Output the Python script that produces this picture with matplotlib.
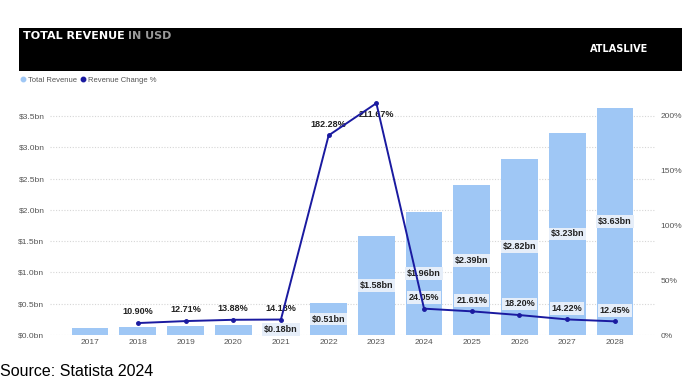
import numpy as np
import matplotlib
matplotlib.use("Agg")
import matplotlib.pyplot as plt
from matplotlib.patches import Rectangle
from matplotlib.lines import Line2D

plt.rcParams['font.family'] = ['Liberation Sans', 'DejaVu Sans']

years = ['2017', '2018', '2019', '2020', '2021', '2022', '2023', '2024', '2025', '2026', '2027', '2028']
revenue_bn = [0.11, 0.12, 0.14, 0.16, 0.18, 0.51, 1.58, 1.96, 2.39, 2.82, 3.23, 3.63]
change_years = years[1:]
change_pct = [10.90, 12.71, 13.88, 14.13, 182.28, 211.67, 24.05, 21.61, 18.20, 14.22, 12.45]
bar_label_years = ['2021', '2022', '2023', '2024', '2025', '2026', '2027', '2028']
left_ticks = [0.0, 0.5, 1.0, 1.5, 2.0, 2.5, 3.0, 3.5]
right_ticks = [0, 50, 100, 150, 200]

bar_col = '#9fc7f5'
line_col = '#1a1aa0'
tick_col = '#555555'
box_col = '#e6eef9'

W, H = 700, 390
fig = plt.figure(figsize=(7, 3.9), dpi=100)

# black banner
fig.add_artist(Rectangle((19 / W, 1 - 71 / H), 663 / W, 43 / H, transform=fig.transFigure,
                         facecolor='black', edgecolor='none'))
fig.text(23 / W, 1 - 36 / H, 'TOTAL REVENUE', color='white', fontsize=8, fontweight='heavy',
         family='DejaVu Sans', va='center', ha='left')
fig.text(128 / W, 1 - 36 / H, 'IN USD', color='#9a9a9a', fontsize=8, fontweight='heavy',
         family='DejaVu Sans', va='center', ha='left')
fig.text(648 / W, 1 - 49 / H, 'ATLASLIVE', color='white', fontsize=7, fontweight='bold',
         family='DejaVu Sans', va='center', ha='right')

ax = fig.add_axes([50 / W, 1 - 335 / H, 605 / W, 235 / H])
x = np.arange(len(years))
ax.bar(x, revenue_bn, width=0.77, color=bar_col, zorder=2)
ax.set_xlim(-0.84, len(years) - 1 + 0.84)
ax.set_ylim(0, 3.5 * 235 / 219)
ax.set_yticks(left_ticks)
ax.set_yticklabels(['$%.1fbn' % v for v in left_ticks])
ax.set_xticks(x)
ax.set_xticklabels(years)
ax.tick_params(axis='both', length=0, labelsize=6, colors=tick_col)
ax.tick_params(axis='y', pad=4)
ax.tick_params(axis='x', pad=3)
ax.grid(axis='y', linestyle=(0, (1, 1.5)), color='#d6d6d6', linewidth=0.8)
ax.set_axisbelow(True)
for s in ax.spines.values():
    s.set_visible(False)

for yr in bar_label_years:
    i = years.index(yr)
    v = revenue_bn[i]
    ax.text(i, v / 2, '$%.2fbn' % v, ha='center', va='center', fontsize=6.5, fontweight='bold',
            color='#222222', zorder=3,
            bbox=dict(boxstyle='square,pad=0.2', facecolor=box_col, edgecolor='none'))

ax2 = ax.twinx()
xc = [years.index(y) for y in change_years]
ax2.plot(xc, change_pct, color=line_col, linewidth=1.4, marker='o', markersize=2.5, zorder=4)
ax2.set_ylim(0, 200 * 235 / 219)
ax2.set_yticks(right_ticks)
ax2.set_yticklabels(['%d%%' % v for v in right_ticks])
ax2.tick_params(axis='y', length=0, labelsize=6, colors=tick_col, pad=4)
for s in ax2.spines.values():
    s.set_visible(False)

for xi, yr, v in zip(xc, change_years, change_pct):
    below = yr == '2023'
    boxed = int(yr) >= 2024
    kw = {}
    if boxed:
        kw['bbox'] = dict(boxstyle='square,pad=0.2', facecolor=box_col, edgecolor='none')
    ax2.annotate('%.2f%%' % v, (xi, v), xytext=(0, -8 if below else 8), textcoords='offset points',
                 ha='center', va='center', fontsize=6.5, fontweight='bold', color='#222222', **kw)

handles = [Line2D([], [], marker='o', linestyle='none', color=bar_col, markersize=3.2),
           Line2D([], [], marker='o', linestyle='none', color=line_col, markersize=3.2)]
fig.legend(handles, ['Total Revenue', 'Revenue Change %'], loc='center left',
           bbox_to_anchor=(21 / W, 1 - 80.5 / H), ncol=2, fontsize=5.5, frameon=False,
           handlelength=0.6, handletextpad=0.3, columnspacing=0.5, borderpad=0, borderaxespad=0,
           labelcolor=tick_col)

fig.text(0, 1 - 372 / H, 'Source: Statista 2024', fontsize=11.5, color='black', va='center', ha='left')

fig.savefig('out.png', dpi=100)
